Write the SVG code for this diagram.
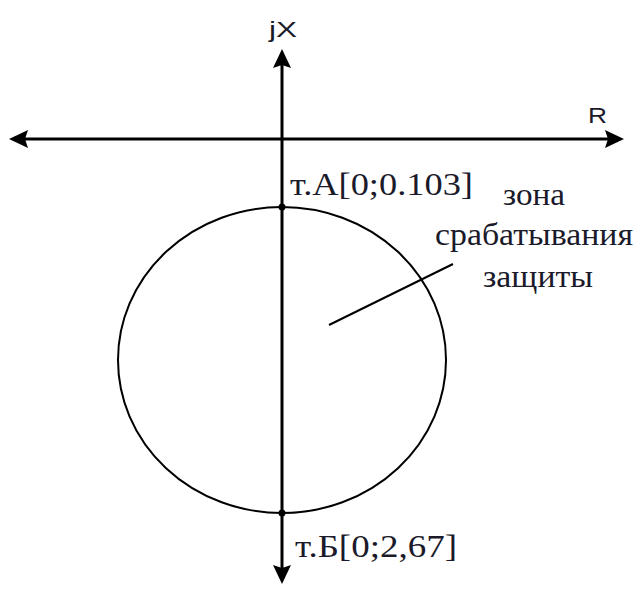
<svg xmlns="http://www.w3.org/2000/svg" width="637" height="589" viewBox="0 0 637 589">
<style>
.ax{stroke:#000;stroke-width:3;fill:none}
.ln{stroke:#000;stroke-width:2;fill:none}
.ah{fill:#000}
.sans{font-family:"Liberation Sans",Arial,sans-serif;font-size:22px;fill:#1a1a2a}
.ser{font-family:"Liberation Serif","Times New Roman",serif;font-size:31px;fill:#1a1a2a}
</style>
<rect width="637" height="589" fill="#fff"/>
<g id="connectors">
<line class="ax" x1="24" y1="139" x2="610" y2="139"/>
<polygon class="ah" points="9,139 28,130 25,139 28,148"/>
<polygon class="ah" points="624,139 605,130 608,139 605,148"/>
<line class="ax" x1="282" y1="64" x2="282" y2="570"/>
<polygon class="ah" points="282,49 273,68 282,65 291,68"/>
<polygon class="ah" points="282,584 273,565 282,568 291,565"/>
<line class="ln" x1="329" y1="325" x2="453" y2="264"/>
</g>
<g id="zone">
<ellipse class="ln" cx="282" cy="360" rx="164" ry="153"/>
</g>
<g id="pointA">
<circle cx="282" cy="207" r="3.5" fill="#000"/>
<text class="ser" x="290" y="195" textLength="183" lengthAdjust="spacingAndGlyphs">т.А[0;0.103]</text>
</g>
<g id="pointB">
<circle cx="282" cy="513" r="3.5" fill="#000"/>
<text class="ser" x="295" y="557" textLength="162" lengthAdjust="spacingAndGlyphs">т.Б[0;2,67]</text>
</g>
<g id="labelZone">
<text class="ser" x="503" y="205" textLength="62" lengthAdjust="spacingAndGlyphs">зона</text>
<text class="ser" x="435" y="245" textLength="198" lengthAdjust="spacingAndGlyphs">срабатывания</text>
<text class="ser" x="483" y="287" textLength="110" lengthAdjust="spacingAndGlyphs">защиты</text>
</g>
<g id="axisLabels">
<text class="sans" x="269" y="37" textLength="28" lengthAdjust="spacingAndGlyphs">jX</text>
<text class="sans" x="588" y="123" textLength="19" lengthAdjust="spacingAndGlyphs">R</text>
</g>
</svg>
